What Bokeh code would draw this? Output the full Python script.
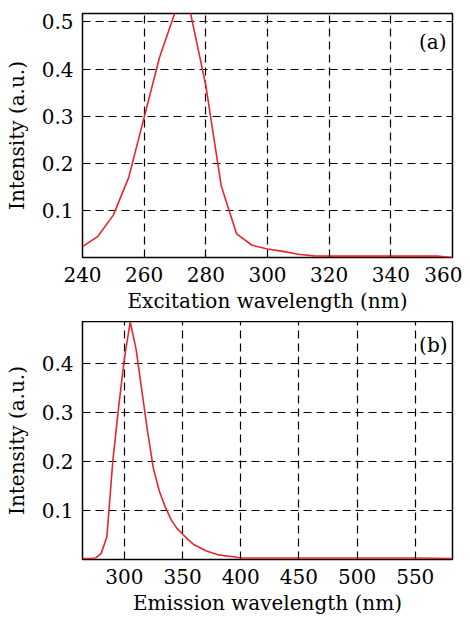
from bokeh.plotting import figure
from bokeh.layouts import column
from bokeh.models import Range1d, FixedTicker, Label
from bokeh.embed import file_html
from bokeh.resources import INLINE

# (a) excitation spectrum
ex_wl = [240, 245, 250, 255, 265, 270, 275, 280, 285, 290, 295, 300, 305, 310, 315, 320, 330, 340, 350, 355, 360]
ex_int = [0.023, 0.045, 0.09, 0.17, 0.425, 0.52, 0.52, 0.365, 0.152, 0.05, 0.026, 0.018, 0.013, 0.007, 0.0035, 0.003, 0.003, 0.003, 0.003, 0.003, 0.0]
ex_xticks = [240, 260, 280, 300, 320, 340, 360]
ex_yticks = [0.1, 0.2, 0.3, 0.4, 0.5]

# (b) emission spectrum
em_wl = [264, 270, 275, 280, 285, 290, 295, 300, 305, 310, 315, 320, 325, 330, 335, 340, 345, 350,
         355, 360, 365, 370, 375, 380, 385, 390, 395, 400, 420, 450, 500, 550, 582]
em_int = [0.002, 0.002, 0.003, 0.012, 0.047, 0.2, 0.31, 0.41, 0.485, 0.43, 0.345, 0.26, 0.185, 0.14, 0.108, 0.082,
          0.064, 0.052, 0.04, 0.03, 0.024, 0.018, 0.014, 0.01, 0.008, 0.0065, 0.005, 0.003, 0.003, 0.003, 0.003, 0.003, 0.002]
em_xticks = [300, 350, 400, 450, 500, 550]
em_yticks = [0.1, 0.2, 0.3, 0.4]

FONT = "DejaVu Serif"
FS = "20px"
RED = "#e8262a"


def style(p, xticks, yticks, xlabel):
    p.xaxis[0].ticker = FixedTicker(ticks=xticks)
    p.yaxis[0].ticker = FixedTicker(ticks=yticks)
    p.xaxis[0].axis_label = xlabel
    p.yaxis[0].axis_label = "Intensity (a.u.)"
    for ax in p.axis:
        ax.axis_label_text_font = FONT
        ax.axis_label_text_font_size = FS
        ax.axis_label_text_font_style = "normal"
        ax.axis_label_text_color = "black"
        ax.major_label_text_font = FONT
        ax.major_label_text_font_size = FS
        ax.major_label_text_font_style = "normal"
        ax.major_label_text_color = "black"
        ax.major_tick_in = 4
        ax.major_tick_out = 0
        ax.minor_tick_line_color = None
        ax.axis_line_color = None
        ax.major_tick_line_color = "black"
    p.xaxis[0].major_label_standoff = 9
    p.xaxis[0].axis_label_standoff = 4
    p.yaxis[0].major_label_standoff = 9
    p.yaxis[0].axis_label_standoff = 10
    for g in p.grid:
        g.grid_line_color = "black"
        g.grid_line_dash = "8 5"
        g.grid_line_width = 1.2
    p.outline_line_color = "black"
    p.outline_line_width = 1.5
    p.outline_line_alpha = 1.0
    p.background_fill_color = "white"
    p.border_fill_color = "white"


p1 = figure(width=462, height=321, output_backend="svg", toolbar_location=None,
            x_range=Range1d(240, 360), y_range=Range1d(0, 0.518),
            min_border_left=82, min_border_right=10, min_border_top=13, min_border_bottom=64)
p1.line(ex_wl, ex_int, line_color=RED, line_width=1.6)
style(p1, ex_xticks, ex_yticks, "Excitation wavelength (nm)")
p1.add_layout(Label(x=353.6, y=0.457, text="(a)", text_align="center", text_baseline="middle",
                    text_font=FONT, text_font_size=FS, text_color="black"))

p2 = figure(width=462, height=296, output_backend="svg", toolbar_location=None,
            x_range=Range1d(264, 582), y_range=Range1d(0, 0.486),
            min_border_left=82, min_border_right=10, min_border_top=0, min_border_bottom=55)
p2.line(em_wl, em_int, line_color=RED, line_width=1.6)
style(p2, em_xticks, em_yticks, "Emission wavelength (nm)")
p2.add_layout(Label(x=565.5, y=0.439, text="(b)", text_align="center", text_baseline="middle",
                    text_font=FONT, text_font_size=FS, text_color="black"))

layout = column(p1, p2, spacing=0)
open("out.html", "w").write(file_html(layout, INLINE))
